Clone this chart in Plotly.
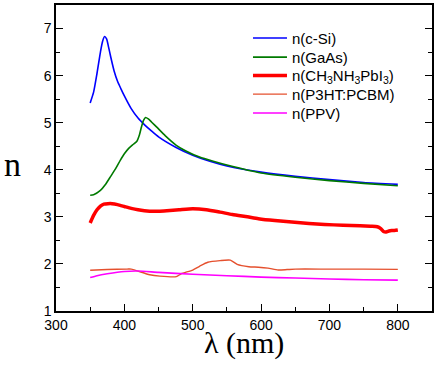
import plotly.graph_objects as go

# Wavelength (nm) and refractive index n for each material
wl_si = [350, 355, 360, 365, 368, 371, 374, 377, 380, 385, 390, 395, 400, 410, 420, 430, 440, 450, 475, 500, 525, 550, 600, 650, 700, 750, 800]
n_si = [5.42, 5.65, 6.05, 6.50, 6.72, 6.83, 6.78, 6.60, 6.40, 6.10, 5.88, 5.72, 5.57, 5.30, 5.10, 4.95, 4.82, 4.70, 4.48, 4.31, 4.18, 4.08, 3.95, 3.86, 3.79, 3.73, 3.69]

wl_gaas = [350, 355, 365, 372, 380, 387, 394, 400, 406, 412, 418, 422, 425, 428, 431, 435, 440, 447, 460, 476, 490, 510, 530, 550, 600, 650, 700, 750, 800]
n_gaas = [3.46, 3.47, 3.56, 3.68, 3.86, 4.02, 4.20, 4.34, 4.45, 4.53, 4.60, 4.74, 4.91, 5.05, 5.11, 5.08, 5.01, 4.91, 4.72, 4.52, 4.40, 4.27, 4.18, 4.10, 3.93, 3.84, 3.77, 3.71, 3.66]

wl_pvk = [350, 355, 360, 365, 370, 376, 382, 390, 400, 410, 420, 437, 450, 462, 480, 500, 520, 540, 558, 580, 596, 620, 645, 670, 693, 720, 745, 760, 770, 775, 779, 783, 787, 791, 795, 800]
n_pvk = [2.87, 3.03, 3.15, 3.23, 3.27, 3.28, 3.28, 3.26, 3.22, 3.18, 3.15, 3.12, 3.12, 3.13, 3.15, 3.17, 3.15, 3.10, 3.05, 3.00, 2.96, 2.92, 2.89, 2.86, 2.84, 2.82, 2.81, 2.80, 2.79, 2.75, 2.69, 2.68, 2.70, 2.71, 2.71, 2.72]

wl_p3ht = [350, 375, 404, 410, 437, 452, 476, 483, 500, 510, 522, 540, 555, 565, 582, 596, 610, 625, 638, 650, 700, 750, 800]
n_p3ht = [1.865, 1.88, 1.89, 1.89, 1.77, 1.74, 1.73, 1.79, 1.87, 1.95, 2.035, 2.07, 2.08, 1.99, 1.94, 1.93, 1.91, 1.87, 1.88, 1.89, 1.89, 1.89, 1.885]

wl_ppv = [350, 360, 375, 400, 420, 450, 500, 550, 600, 650, 700, 750, 800]
n_ppv = [1.71, 1.75, 1.79, 1.84, 1.85, 1.82, 1.78, 1.75, 1.72, 1.70, 1.68, 1.665, 1.655]

names = ["n(c-Si)", "n(GaAs)", "n(CH<sub>3</sub>NH<sub>3</sub>PbI<sub>3</sub>)", "n(P3HT:PCBM)", "n(PPV)"]
x_ticks = [300, 400, 500, 600, 700, 800]
y_ticks = [1, 2, 3, 4, 5, 6, 7]
x_title = "λ (nm)"
y_title = "n"

series = [
    (wl_si, n_si, "#0000FF", 1.6),
    (wl_gaas, n_gaas, "#007A00", 1.6),
    (wl_pvk, n_pvk, "#FF0000", 3.5),
    (wl_p3ht, n_p3ht, "#E5502E", 1.4),
    (wl_ppv, n_ppv, "#FF00FF", 1.6),
]

legend_ids = ["legend", "legend2", "legend3", "legend4", "legend5"]
legend_y = [0.8915, 0.829, 0.769, 0.708, 0.646]

fig = go.Figure()
for (x, y, c, w), nm, lid in zip(series, names, legend_ids):
    fig.add_trace(go.Scatter(x=x, y=y, mode="lines", name=nm, legend=lid,
                             line=dict(color=c, width=w, shape="spline", smoothing=0.6)))

axis_common = dict(
    showgrid=False, zeroline=False, showline=True, linecolor="black", linewidth=1.5,
    ticks="inside", ticklen=7, tickwidth=1.2, tickcolor="black", automargin=False,
    tickfont=dict(family="Liberation Sans, Arial", size=14, color="black"),
)

fig.update_xaxes(range=[300, 850], tickvals=x_ticks, mirror=True,
                 minor=dict(ticks="inside", ticklen=4, dtick=50, tick0=300, tickcolor="black"),
                 **axis_common)
fig.update_yaxes(range=[1, 7.5], tickvals=y_ticks, mirror="ticks",
                 minor=dict(ticks="inside", ticklen=4, dtick=0.5, tick0=1, tickcolor="black"),
                 **axis_common)

title_font = dict(family="Liberation Serif, Times New Roman", color="black")
fig.add_annotation(text=x_title, xref="paper", yref="paper", x=0.5, y=-0.105,
                   xanchor="center", yanchor="middle", showarrow=False,
                   font=dict(size=30, **title_font))
fig.add_annotation(text=y_title, xref="paper", yref="paper", x=-0.115, y=0.48,
                   xanchor="center", yanchor="middle", showarrow=False,
                   font=dict(size=34, **title_font))

legend_layout = {}
for lid, ly in zip(legend_ids, legend_y):
    legend_layout[lid] = dict(x=0.5106, y=ly, xanchor="left", yanchor="middle",
                              bgcolor="rgba(0,0,0,0)", borderwidth=0,
                              font=dict(family="Liberation Sans, Arial", size=15, color="black"),
                              itemwidth=34)

fig.update_layout(
    width=436, height=368,
    margin=dict(l=56, r=4, t=5, b=57, autoexpand=False),
    paper_bgcolor="white", plot_bgcolor="white",
    showlegend=True,
    **legend_layout,
)

fig.write_html("out.html", config={"displayModeBar": False},
               post_script="document.body.style.margin='0';document.body.style.padding='0';document.body.style.overflow='hidden';")
